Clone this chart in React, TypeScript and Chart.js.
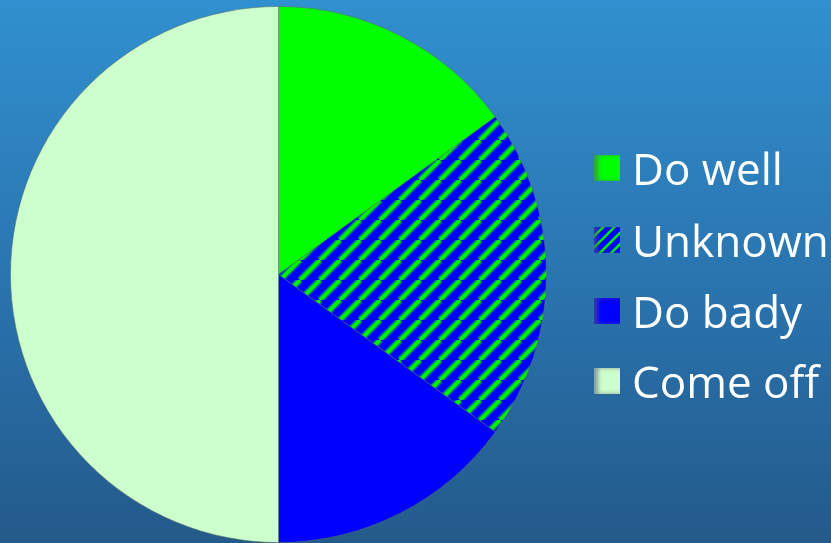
import React, { useEffect, useRef } from "react";
import { Chart, registerables } from "chart.js";

Chart.register(...registerables);

const categories = ["Do well", "Unknown", "Do bady", "Come off"];
const values = [15, 20, 15, 50];
const solidColors = ["#00ff00", "stripes", "#0000ff", "#ccffcc"];

function makeStripePattern(): CanvasPattern | string {
  const c = document.createElement("canvas");
  const w = 20;
  const h = 20;
  c.width = w;
  c.height = h;
  const ctx = c.getContext("2d");
  if (!ctx) return "#0000ff";
  ctx.fillStyle = "#0000ff";
  ctx.fillRect(0, 0, w, h);
  const passes: [string, number][] = [
    ["rgba(0,240,0,0.45)", 7],
    ["#00f000", 4],
  ];
  for (const [col, lw] of passes) {
    ctx.strokeStyle = col;
    ctx.lineWidth = lw;
    for (const k of [-1, 0, 1]) {
      ctx.beginPath();
      ctx.moveTo(k * w, h);
      ctx.lineTo(k * w + w, 0);
      ctx.stroke();
    }
  }
  const p = ctx.createPattern(c, "repeat");
  return p || "#0000ff";
}

const stripeCss =
  "repeating-linear-gradient(-45deg, #0000ff 0px, #0000ff 4.5px, #00f000 5.5px, #00f000 7px, #0000ff 8px)";

export default function App() {
  const ref = useRef<HTMLCanvasElement>(null);
  useEffect(() => {
    if (!ref.current) return;
    const pattern = makeStripePattern();
    const bg = solidColors.map((c) => (c === "stripes" ? pattern : c));
    const chart = new Chart(ref.current, {
      type: "pie",
      data: {
        labels: categories,
        datasets: [
          {
            data: values,
            backgroundColor: bg as any,
            borderColor: "rgba(90,110,110,0.55)",
            borderWidth: 1,
          },
        ],
      },
      options: {
        responsive: false,
        animation: false,
        layout: { padding: { top: 6, bottom: 0, left: 10, right: 284 } },
        plugins: {
          legend: { display: false },
          tooltip: { enabled: false },
        },
      },
    });
    return () => chart.destroy();
  }, []);

  const legendTops = [150, 222, 293, 363];
  return (
    <div
      style={{
        position: "absolute",
        left: 0,
        top: 0,
        width: 831,
        height: 543,
        overflow: "hidden",
        background: "linear-gradient(to bottom, #3190cf 0%, #2a75b0 50%, #235a8a 100%)",
      }}
    >
      <canvas ref={ref} width={831} height={543} style={{ position: "absolute", left: 0, top: 0 }} />
      {categories.map((name, i) => (
        <div
          key={name}
          style={{
            position: "absolute",
            left: 594,
            top: legendTops[i],
            height: 36,
            display: "flex",
            alignItems: "center",
            whiteSpace: "nowrap",
          }}
        >
          <div
            style={{
              width: 26,
              height: 26,
              marginRight: 12,
              background: solidColors[i] === "stripes" ? stripeCss : solidColors[i],
              boxShadow: "inset 4px 0 4px rgba(90,90,120,0.6)",
            }}
          />
          <span
            style={{
              fontFamily: "'Open Sans', 'DejaVu Sans', sans-serif",
              fontSize: 44,
              color: "#ffffff",
              lineHeight: "36px",
            }}
          >
            {name}
          </span>
        </div>
      ))}
    </div>
  );
}
